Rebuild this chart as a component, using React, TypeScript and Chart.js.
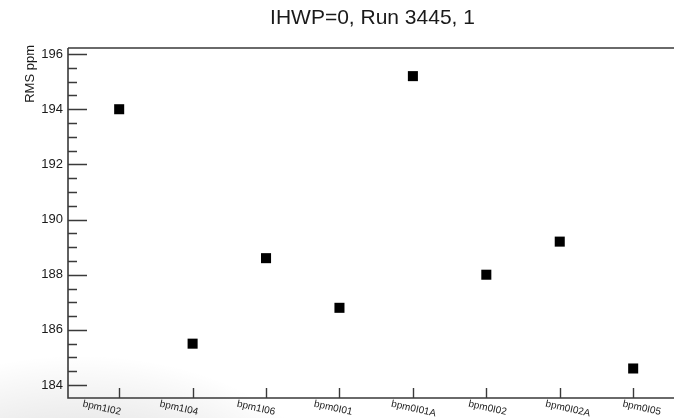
import React, { useEffect, useRef } from "react";
import { Chart, registerables } from "chart.js";

Chart.register(...registerables);

const TITLE = "IHWP=0, Run 3445, 1";
const Y_TITLE = "RMS ppm";
const categories = ["bpm1I02", "bpm1I04", "bpm1I06", "bpm0I01", "bpm0I01A", "bpm0I02", "bpm0I02A", "bpm0I05"];
const rmsValues = [194.0, 185.5, 188.6, 186.8, 195.2, 188.0, 189.2, 184.6];
const yTicks = [184, 186, 188, 190, 192, 194, 196];
const yMinorStep = 0.5;
const yMin = 183.53;
const yMax = 196.22;
const xMin = -0.697;
const xMax = 7.556;

const FONT = "'Liberation Sans', Arial, Helvetica, sans-serif";
const AXIS = "#3a3a3a";

const rootPlugin = {
  id: "rootStyle",
  beforeDraw(chart: any) {
    const { ctx, width, height } = chart;
    ctx.save();
    ctx.fillStyle = "#fff";
    ctx.fillRect(0, 0, width, height);
    ctx.translate(80, 520);
    ctx.scale(1.6, 1);
    const g = ctx.createRadialGradient(0, 0, 0, 0, 0, 165);
    g.addColorStop(0, "rgba(0,0,0,0.16)");
    g.addColorStop(0.6, "rgba(0,0,0,0.08)");
    g.addColorStop(1, "rgba(0,0,0,0)");
    ctx.fillStyle = g;
    ctx.fillRect(-200, -200, 400, 200);
    ctx.restore();
  },
  afterDraw(chart: any) {
    const { ctx, chartArea } = chart;
    const xs = chart.scales.x;
    const ys = chart.scales.y;
    const { left, right, top, bottom } = chartArea;
    ctx.save();
    ctx.strokeStyle = AXIS;
    ctx.lineWidth = 1.6;
    ctx.beginPath();
    ctx.moveTo(left, top);
    ctx.lineTo(right, top);
    ctx.moveTo(left, top);
    ctx.lineTo(left, bottom);
    ctx.lineTo(right, bottom);
    ctx.stroke();
    ctx.lineWidth = 1.4;
    ctx.beginPath();
    for (let v = yTicks[0]; v <= yTicks[yTicks.length - 1] + 1e-9; v += yMinorStep) {
      const py = Math.round(ys.getPixelForValue(v)) + 0.5;
      const major = yTicks.some((t) => Math.abs(t - v) < 1e-6);
      ctx.moveTo(left, py);
      ctx.lineTo(left + (major ? 19 : 9), py);
    }
    ctx.stroke();
    ctx.beginPath();
    categories.forEach((_, i) => {
      const px = Math.round(xs.getPixelForValue(i)) + 0.5;
      ctx.moveTo(px, bottom);
      ctx.lineTo(px, bottom - 10);
    });
    ctx.stroke();
    ctx.fillStyle = "#222";
    ctx.font = `10px ${FONT}`;
    ctx.textAlign = "left";
    ctx.textBaseline = "top";
    categories.forEach((label, i) => {
      const px = xs.getPixelForValue(i) - 35.3 + 3.71 * i;
      ctx.save();
      ctx.translate(px, bottom + 1);
      ctx.rotate((12.5 * Math.PI) / 180);
      ctx.fillText(label, 0, 0);
      ctx.restore();
    });
    ctx.fillStyle = "#1a1a1a";
    ctx.font = `21px ${FONT}`;
    ctx.textAlign = "center";
    ctx.textBaseline = "middle";
    ctx.fillText(TITLE, 372.5, 18);
    ctx.save();
    ctx.translate(30, 45);
    ctx.rotate(-Math.PI / 2);
    ctx.font = `13px ${FONT}`;
    ctx.textAlign = "right";
    ctx.textBaseline = "middle";
    ctx.fillText(Y_TITLE, 0, 0);
    ctx.restore();
    ctx.restore();
  },
};

export default function App() {
  const ref = useRef<HTMLCanvasElement | null>(null);
  useEffect(() => {
    if (!ref.current) return;
    const chart = new Chart(ref.current, {
      type: "scatter",
      data: {
        datasets: [
          {
            data: rmsValues.map((v, i) => ({ x: i, y: v })),
            pointStyle: "rect",
            pointRadius: 7.1,
            pointHoverRadius: 7.1,
            backgroundColor: "#000",
            borderColor: "#000",
            borderWidth: 0,
          },
        ],
      },
      options: {
        animation: false,
        responsive: false,
        maintainAspectRatio: false,
        layout: { autoPadding: false, padding: { top: 48, left: 0, right: 0, bottom: 0 } },
        plugins: { legend: { display: false }, tooltip: { enabled: false }, title: { display: false } },
        scales: {
          x: {
            type: "linear",
            min: xMin,
            max: xMax,
            grid: { display: false, drawTicks: false },
            border: { display: false },
            ticks: { display: false },
            afterFit: (s: any) => {
              s.height = 20;
            },
          },
          y: {
            type: "linear",
            min: yMin,
            max: yMax,
            grid: { display: false, drawTicks: false },
            border: { display: false },
            ticks: {
              padding: 5,
              color: "#1a1a1a",
              font: { family: FONT, size: 13 },
            },
            afterBuildTicks: (s: any) => {
              s.ticks = yTicks.map((v) => ({ value: v }));
            },
            afterFit: (s: any) => {
              s.width = 68;
            },
          },
        },
      },
      plugins: [rootPlugin],
    });
    return () => chart.destroy();
  }, []);
  return (
    <div style={{ position: "fixed", left: 0, top: 0, width: 674, height: 418, background: "#fff" }}>
      <canvas ref={ref} width={674} height={418} style={{ display: "block", width: 674, height: 418 }} />
    </div>
  );
}
